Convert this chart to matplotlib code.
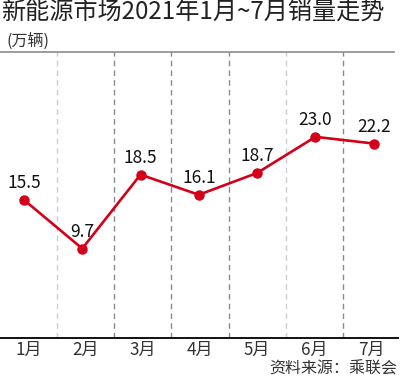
import matplotlib
matplotlib.use("Agg")
import matplotlib.pyplot as plt

plt.rcParams['font.family'] = ['Noto Sans CJK SC', 'DejaVu Sans']

months = ["1月", "2月", "3月", "4月", "5月", "6月", "7月"]
sales = [15.5, 9.7, 18.5, 16.1, 18.7, 23.0, 22.2]
value_labels = ["15.5", "9.7", "18.5", "16.1", "18.7", "23.0", "22.2"]
title = "新能源市场2021年1月~7月销量走势"
unit = "(万辆)"
source = "资料来源：乘联会"

W, H = 400, 383
fig = plt.figure(figsize=(W / 100, H / 100), dpi=100)
rect = [0, (H - 338) / H, 1, (338 - 52) / H]
ax = fig.add_axes(rect)
ax.set_xlim(-0.5, 6.5)
ax.set_ylim(-0.95, 33.1)
for s in ax.spines.values():
    s.set_visible(False)
ax.set_xticks([])
ax.set_yticks([])

red = "#d40019"
divider_colors = ["#cfcfcf", "#8a8a8a", "#8a8a8a", "#8a8a8a", "#cfcfcf", "#8a8a8a"]
for i, c in enumerate(divider_colors):
    ax.axvline(i + 0.5, color=c, lw=1.0, ls=(0, (4, 3)), zorder=1)

ax.axhline(33.1, color="#8c8c8c", lw=1.2, xmax=0.985, zorder=2, clip_on=False)
ax.axhline(-0.95, color="#111111", lw=1.4, xmax=0.995, zorder=2, clip_on=False)

x = list(range(len(months)))
for xi, m in zip(x, months):
    ax.text(xi, -1.3, m, ha="center", va="top", fontsize=12.3, color="#333333")

# line layer (points are spaced slightly wider than the month columns)
lax = fig.add_axes(rect, facecolor="none")
lax.set_xlim(-0.41, 6.45)
lax.set_ylim(-0.95, 33.1)
lax.axis("off")
lax.plot(x, sales, color=red, lw=1.9, marker="o", ms=6.5, zorder=3)
for xi, v, lab in zip(x, sales, value_labels):
    lax.annotate(lab, (xi, v), xytext=(0, 12), textcoords="offset points",
                 ha="center", va="center", fontsize=12.5, color="#111111")

fig.text(0.003, 1 - 12.5 / H, title, ha="left", va="center", fontsize=17.4, color="#222222")
fig.text(7 / W, 1 - 41 / H, unit, ha="left", va="center", fontsize=11.5, color="#333333")
fig.text(397 / W, 1 - 369 / H, source, ha="right", va="center", fontsize=11.5, color="#333333")

fig.savefig("out.png", dpi=100)
